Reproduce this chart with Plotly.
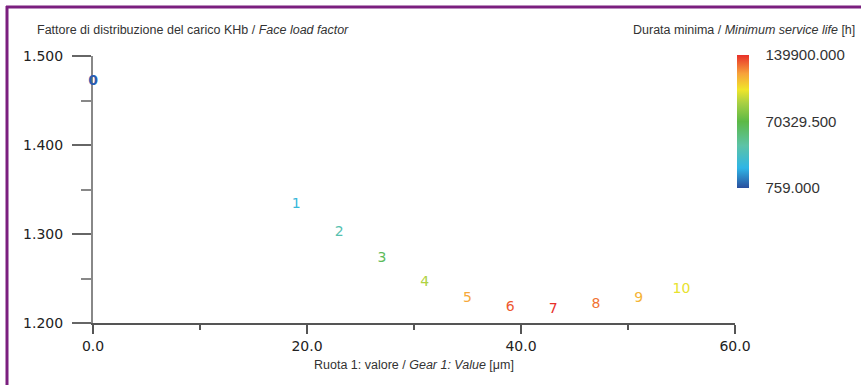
import plotly.graph_objects as go
from plotly.colors import sample_colorscale

# ---- data ----
labels = ["0", "1", "2", "3", "4", "5", "6", "7", "8", "9", "10"]
gear_value = [0, 19, 23, 27, 31, 35, 39, 43, 47, 51, 55]
face_load_factor = [1.471, 1.333, 1.302, 1.273, 1.245, 1.228, 1.217, 1.215, 1.221, 1.228, 1.238]
service_life = [759, 26000, 42000, 65000, 91000, 119000, 133000, 139900, 128500, 116000, 102000]
life_min, life_max = 759.0, 139900.0
cbar_ticks = [759.0, 70329.5, 139900.0]
cbar_ticktext = ["759.000", "70329.500", "139900.000"]

colorscale = [
    [0.0, "#2a4f9e"], [0.15, "#2fb5e6"], [0.32, "#5cc3a6"], [0.5, "#5cb946"],
    [0.64, "#a9d043"], [0.74, "#f0e52a"], [0.86, "#f7a23a"], [1.0, "#e8302a"],
]

norm = [(v - life_min) / (life_max - life_min) for v in service_life]
text_colors = sample_colorscale(colorscale, norm)
text_colors[0] = "#2b5db0"
text_weights = ["bold"] + ["normal"] * (len(labels) - 1)

W, H = 861, 385
L, R, T, B = 93, 861 - 735, 56, 385 - 323
pw, ph = W - L - R, H - T - B

def px(x):
    return (x - L) / pw

def py(y):
    return (H - B - y) / ph

TITLE_FONT = dict(family="Liberation Sans Narrow, Arial Narrow, Liberation Sans, Arial", size=12.5, color="#333")

fig = go.Figure()
fig.add_trace(go.Scatter(
    x=gear_value, y=face_load_factor, mode="text", text=labels,
    textposition="middle center", cliponaxis=False,
    textfont=dict(family="DejaVu Sans", size=14, color=text_colors, weight=text_weights),
    hoverinfo="skip", showlegend=False,
))
fig.add_trace(go.Scatter(
    x=[gear_value[0]], y=[face_load_factor[0]], mode="markers",
    marker=dict(size=0.1, opacity=0, color=[service_life[0]], cmin=life_min, cmax=life_max,
                colorscale=colorscale, showscale=True,
                colorbar=dict(
                    x=px(737), xanchor="left", xpad=0,
                    y=py(55), yanchor="top", ypad=0, len=133 / ph, lenmode="fraction",
                    thickness=12, outlinewidth=0,
                    tickvals=cbar_ticks, ticktext=cbar_ticktext,
                    ticks="outside", ticklen=14, tickcolor="rgba(0,0,0,0)",
                    tickfont=dict(family="Liberation Sans, Arial", size=15, color="#333"),
                )),
    hoverinfo="skip", showlegend=False,
))

fig.update_layout(
    width=W, height=H,
    margin=dict(l=L, r=R, t=T, b=B, autoexpand=False),
    paper_bgcolor="white", plot_bgcolor="white",
    xaxis=dict(
        range=[0, 60], dtick=20, tickformat=".1f", showgrid=False, zeroline=False,
        showline=True, linecolor="#555", linewidth=1.5, layer="below traces",
        ticks="outside", ticklen=9, tickcolor="#555", tickwidth=1.5,
        minor=dict(dtick=10, ticks="outside", ticklen=5, tickcolor="#555", tickwidth=1.5),
        tickfont=dict(family="DejaVu Sans", size=14, color="#222"),
    ),
    yaxis=dict(
        range=[1.2, 1.5], dtick=0.1, tickformat=".3f", showgrid=False, zeroline=False,
        showline=True, linecolor="#888", linewidth=2, layer="below traces",
        ticks="outside", ticklen=19, tickcolor="#666", tickwidth=1.5, ticklabelstandoff=6,
        minor=dict(dtick=0.05, ticks="outside", ticklen=10, tickcolor="#888", tickwidth=1.5),
        tickfont=dict(family="DejaVu Sans", size=14, color="#222"),
    ),
    annotations=[
        dict(text="Fattore di distribuzione del carico KHb / <i>Face load factor</i>",
             xref="paper", yref="paper", x=px(35), y=py(30), xanchor="left", yanchor="middle",
             showarrow=False, font=TITLE_FONT),
        dict(text="Durata minima / <i>Minimum service life</i> [h]",
             xref="paper", yref="paper", x=px(857), y=py(30), xanchor="right", yanchor="middle",
             showarrow=False, font=TITLE_FONT),
        dict(text="Ruota 1: valore / <i>Gear 1: Value</i> [μm]",
             xref="paper", yref="paper", x=0.5, y=py(365), xanchor="center", yanchor="middle",
             showarrow=False, font=TITLE_FONT),
    ],
    shapes=[
        dict(type="line", xref="paper", yref="paper", x0=px(7), x1=px(7), y0=py(6), y1=py(400),
             line=dict(color="#7b1f7f", width=3)),
        dict(type="line", xref="paper", yref="paper", x0=px(6), x1=px(870), y0=py(7), y1=py(7),
             line=dict(color="#7b1f7f", width=3)),
    ],
)

fig.write_html("out.html", config={"displayModeBar": False},
               post_script="document.body.style.margin='0';")
